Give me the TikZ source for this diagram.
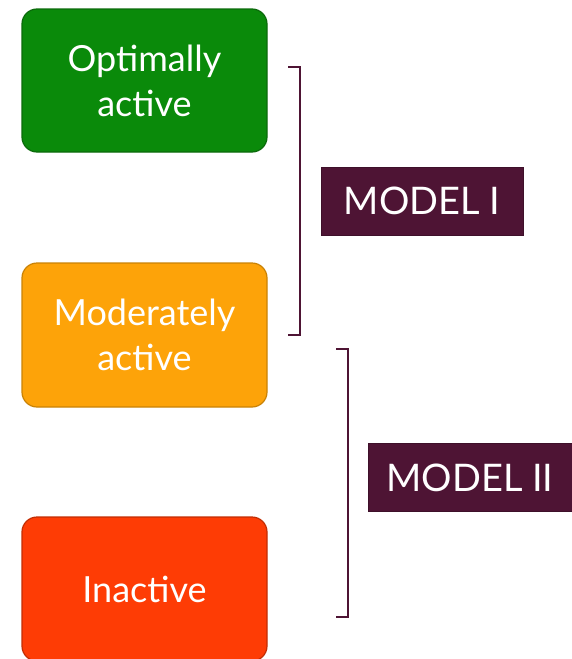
\documentclass[tikz,border=0pt]{standalone}
\usepackage{fontspec}
\setmainfont{Lato}
\definecolor{cgreen}{HTML}{0A8A0A}
\definecolor{cgreenD}{HTML}{0B6A0B}
\definecolor{corange}{HTML}{FDA309}
\definecolor{corangeD}{HTML}{C98206}
\definecolor{cred}{HTML}{FE3C05}
\definecolor{credD}{HTML}{C22E04}
\definecolor{cmaroon}{HTML}{4E1434}
\begin{document}
\begin{tikzpicture}[x=1pt,y=-1pt,
  level/.style={rounded corners=15pt, minimum width=245pt, align=center, text=white, line width=1.2pt, font=\fontsize{36}{45}\selectfont, inner sep=0pt},
  model/.style={fill=cmaroon, draw=cmaroon!80!black, line width=1pt, text=white, minimum height=68pt, inner sep=0pt, font=\fontsize{38}{44}\selectfont},
  brk/.style={draw=cmaroon, line width=2pt}]
\useasboundingbox (0,0) rectangle (571,659);
\node[level, fill=cgreen, draw=cgreenD, minimum height=143pt] (opt) at (144.5,80.5) {Optimally\\active};
\node[level, fill=corange, draw=corangeD, minimum height=144pt] (mod) at (144.5,335) {Moderately\\active};
\node[level, fill=cred, draw=credD, minimum height=144pt] (ina) at (144.5,589) {Inactive};
\node[model, minimum width=202pt] (m1) at (422,201) {MODEL I};
\node[model, minimum width=204pt] (m2) at (470,477.5) {MODEL II};
\coordinate (b1a) at (288,67);
\coordinate (b1b) at (300,67);
\coordinate (b1c) at (300,335);
\coordinate (b1d) at (288,335);
\draw[brk] (b1a) -- (b1b) -- (b1c) -- (b1d);
\coordinate (b2a) at (336,349);
\coordinate (b2b) at (348,349);
\coordinate (b2c) at (348,617);
\coordinate (b2d) at (336,617);
\draw[brk] (b2a) -- (b2b) -- (b2c) -- (b2d);
\end{tikzpicture}
\end{document}
